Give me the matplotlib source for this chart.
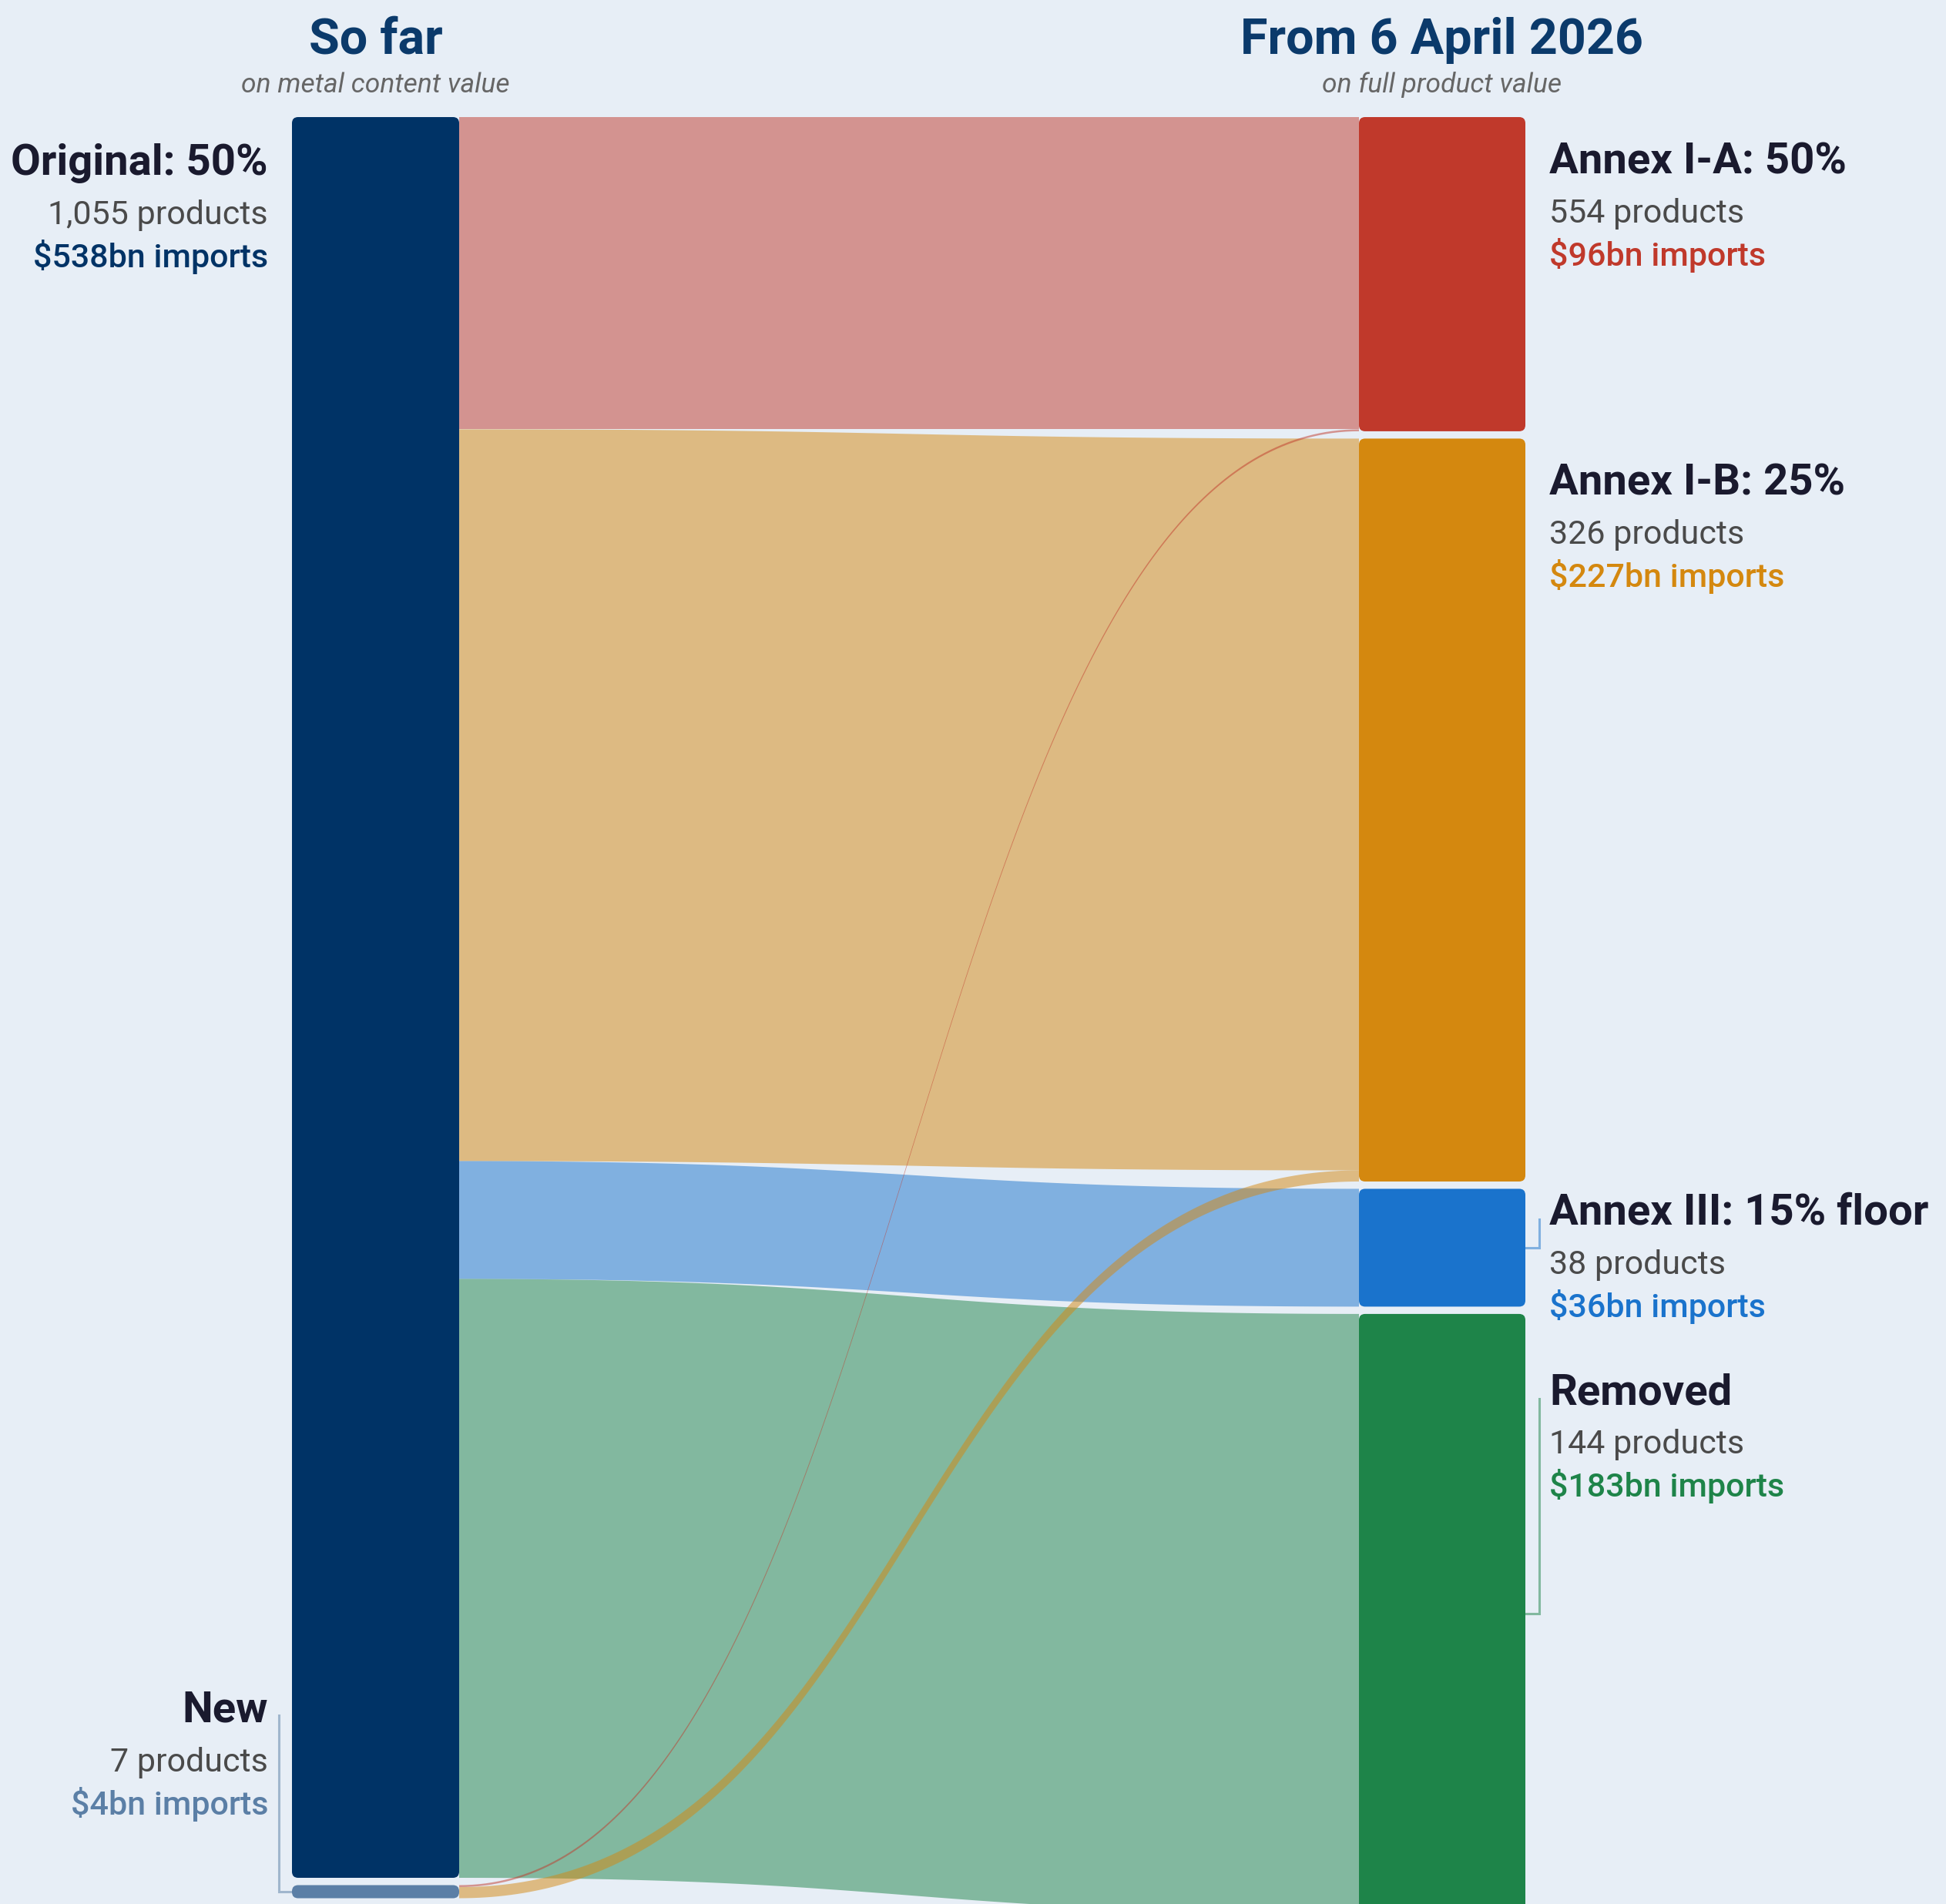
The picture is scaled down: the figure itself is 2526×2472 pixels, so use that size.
import numpy as np
import matplotlib.pyplot as plt
from matplotlib.patches import FancyBboxPatch, Polygon

# ---- data ($bn of imports, product counts) ----
source_names = ["Original: 50%", "New"]
source_products = [1055, 7]
source_imports = [538, 4]

target_names = ["Annex I-A: 50%", "Annex I-B: 25%", "Annex III: 15% floor", "Removed"]
target_products = [554, 326, 38, 144]
target_imports = [96, 227, 36, 183]

# flows from each source into the targets (same order as target_names)
flows_original = [95.4, 223.6, 36, 183]
flows_new = [0.6, 3.4, 0, 0]
flows = [flows_original, flows_new]

# ---- styling / layout ----
BG = "#e7eef6"
source_colors = ["#003366", "#5b7fa6"]
target_colors = ["#c0392b", "#d4880f", "#1a73cc", "#1e8449"]
TITLE_COLOR = "#0b3a6b"
HEAD_COLOR = "#1a1a2e"
GREY = "#4a4a4a"

W, H = 2526, 2472
TOP = 152
PX_PER_BN = 2286 / 538
GAP = 9.5
LX0, LX1 = 379, 596
RX0, RX1 = 1764, 1980

plt.rcParams["font.family"] = ["Roboto", "DejaVu Sans"]

fig = plt.figure(figsize=(W / 100, H / 100), dpi=100, facecolor=BG)
ax = fig.add_axes([0, 0, 1, 1])
ax.set_xlim(0, W)
ax.set_ylim(H, 0)
ax.axis("off")
ax.set_facecolor(BG)


def stack(values):
    spans = []
    y = TOP
    for v in values:
        h = v * PX_PER_BN
        spans.append((y, y + h))
        y += h + GAP
    return spans


src_span = stack(source_imports)
tgt_span = stack(target_imports)


def bezier(a, b, t):
    return (1 - t) ** 3 * a + 3 * (1 - t) ** 2 * t * a + 3 * (1 - t) * t ** 2 * b + t ** 3 * b


t = np.linspace(0, 1, 200)
xm = (LX1 + RX0) / 2
xs = (1 - t) ** 3 * LX1 + 3 * (1 - t) ** 2 * t * xm + 3 * (1 - t) * t ** 2 * xm + t ** 3 * RX0

# ---- flows ----
tgt_fill = [s[0] for s in tgt_span]
for si, row in enumerate(flows):
    y_left = src_span[si][0]
    for ti, v in enumerate(row):
        if v <= 0:
            continue
        h = v * PX_PER_BN
        y_right = tgt_fill[ti]
        top = bezier(y_left, y_right, t)
        bot = bezier(y_left + h, y_right + h, t)
        pts = np.vstack([np.column_stack([xs, top]), np.column_stack([xs[::-1], bot[::-1]])])
        ax.add_patch(Polygon(pts, closed=True, facecolor=target_colors[ti], alpha=0.5,
                             edgecolor="none", zorder=1))
        y_left += h
        tgt_fill[ti] += h


# ---- nodes ----
def node(x0, x1, span, color):
    h = span[1] - span[0]
    r = min(8, h / 2)
    ax.add_patch(FancyBboxPatch((x0, span[0]), x1 - x0, h,
                                boxstyle=f"round,pad=0,rounding_size={r}",
                                facecolor=color, edgecolor="none", zorder=3))


for span, c in zip(src_span, source_colors):
    node(LX0, LX1, span, c)
for span, c in zip(tgt_span, target_colors):
    node(RX0, RX1, span, c)

# ---- column titles ----
ax.text((LX0 + LX1) / 2, 70, "So far", ha="center", va="baseline", fontsize=46.5,
        fontweight="bold", color=TITLE_COLOR)
ax.text((LX0 + LX1) / 2, 120, "on metal content value", ha="center", va="baseline",
        fontsize=25.5, style="italic", color="#666666")
ax.text((RX0 + RX1) / 2, 70, "From 6 April 2026", ha="center", va="baseline", fontsize=46.5,
        fontweight="bold", color=TITLE_COLOR)
ax.text((RX0 + RX1) / 2, 120, "on full product value", ha="center", va="baseline",
        fontsize=25.5, style="italic", color="#666666")


# ---- labels ----
def label(x, y, ha, name, products, imports, color):
    ax.text(x, y, name, ha=ha, va="baseline", fontsize=40.5, fontweight="bold", color=HEAD_COLOR)
    ax.text(x, y + 64, f"{products:,} products", ha=ha, va="baseline", fontsize=31, color=GREY)
    ax.text(x, y + 120, f"${imports}bn imports", ha=ha, va="baseline", fontsize=31,
            fontweight="medium", color=color)


src_label_y = [src_span[0][0] + 75, 2236]
for i in range(len(source_names)):
    label(348, src_label_y[i], "right", source_names[i], source_products[i],
          source_imports[i], source_colors[i])

tgt_label_y = [tgt_span[0][0] + 73, tgt_span[1][0] + 73, 1590, 1823]
for i in range(len(target_names)):
    label(2011, tgt_label_y[i], "left", target_names[i], target_products[i],
          target_imports[i], target_colors[i])

# brackets tying displaced labels to their nodes
for i in (2, 3):
    mid = sum(tgt_span[i]) / 2
    ax.plot([RX1, 1998, 1998], [mid, mid, tgt_label_y[i] - 7], color=target_colors[i],
            alpha=0.5, lw=2.2, solid_joinstyle="miter", zorder=2)
mid = sum(src_span[1]) / 2
ax.plot([LX0, 362, 362], [mid, mid, src_label_y[1] - 9], color=source_colors[1],
        alpha=0.5, lw=2.2, solid_joinstyle="miter", zorder=2)

fig.savefig("out.png", dpi=100, facecolor=BG)
